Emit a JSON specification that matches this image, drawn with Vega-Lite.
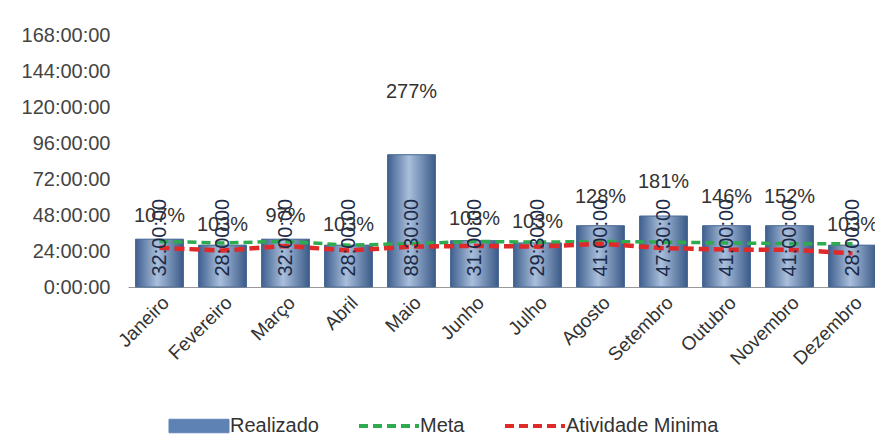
{
  "$schema": "https://vega.github.io/schema/vega-lite/v6.json",
  "width": 747,
  "height": 269,
  "autosize": {"type": "none"},
  "padding": {"left": 128, "top": 18, "right": 0, "bottom": 152},
  "background": "white",
  "config": {"view": {"stroke": null}, "font": "Liberation Sans",
    "axisY": {"ticks": false, "domain": false, "grid": false, "labelPadding": 18, "labelFontSize": 20, "labelColor": "#444", "title": null}},
  "data": {"values": [
    {"mes": "Janeiro", "realizado": 32, "label": "32:00:00", "pct": "107%", "meta": 30.5, "minima": 26.2},
    {"mes": "Fevereiro", "realizado": 28, "label": "28:00:00", "pct": "103%", "meta": 29.5, "minima": 24.4},
    {"mes": "Março", "realizado": 32, "label": "32:00:00", "pct": "97%", "meta": 30.5, "minima": 27.5},
    {"mes": "Abril", "realizado": 28, "label": "28:00:00", "pct": "103%", "meta": 28, "minima": 24.4},
    {"mes": "Maio", "realizado": 88.5, "label": "88:30:00", "pct": "277%", "meta": 29, "minima": 27},
    {"mes": "Junho", "realizado": 31, "label": "31:00:00", "pct": "103%", "meta": 30.5, "minima": 27.5},
    {"mes": "Julho", "realizado": 29.5, "label": "29:30:00", "pct": "103%", "meta": 30, "minima": 27},
    {"mes": "Agosto", "realizado": 41, "label": "41:00:00", "pct": "128%", "meta": 30.5, "minima": 29},
    {"mes": "Setembro", "realizado": 47.5, "label": "47:30:00", "pct": "181%", "meta": 30, "minima": 26},
    {"mes": "Outubro", "realizado": 41, "label": "41:00:00", "pct": "146%", "meta": 29.5, "minima": 25},
    {"mes": "Novembro", "realizado": 41, "label": "41:00:00", "pct": "152%", "meta": 29, "minima": 25},
    {"mes": "Dezembro", "realizado": 28, "label": "28:00:00", "pct": "103%", "meta": 29, "minima": 22.5}
  ]},
  "encoding": {
    "x": {
      "field": "mes", "type": "nominal", "sort": null,
      "scale": {"range": [0, 756], "paddingInner": 0.24, "paddingOuter": 0.12},
      "axis": {"title": null, "labelAngle": -45, "labelFontSize": 19, "labelColor": "#333", "ticks": false, "domainColor": "#999", "labelPadding": 6}
    }
  },
  "layer": [
    {
      "layer": [
        {
          "mark": {"type": "bar"},
          "encoding": {
            "y": {"field": "realizado", "type": "quantitative", "scale": {"domain": [0, 168]},
              "axis": {"values": [0, 24, 48, 72, 96, 120, 144, 168], "labelExpr": "datum.value + ':00:00'"}},
            "color": {"datum": "Realizado", "type": "nominal",
              "scale": {"domain": ["Realizado", "Meta", "Atividade Minima"], "range": ["#5f82b5", "#2fab4f", "#e02a2a"]},
              "legend": {
                "orient": "none", "legendX": 46, "legendY": 398, "direction": "horizontal", "title": null,
                "labelFontSize": 20, "labelColor": "#333", "symbolSize": 900, "columnPadding": 32, "labelOffset": 36,
                "encode": {"symbols": {"update": {
                  "shape": {"signal": "datum.value === 'Realizado' ? 'M-1,-0.45H3V0.45H-1Z' : 'M-1,0H3'"},
                  "fill": {"signal": "datum.value === 'Realizado' ? '#5f82b5' : 'transparent'"},
                  "stroke": {"signal": "datum.value === 'Realizado' ? '#44669a' : (datum.value === 'Meta' ? '#2fab4f' : '#e02a2a')"},
                  "strokeDash": {"signal": "datum.value === 'Realizado' ? [] : [9, 5]"},
                  "strokeWidth": {"signal": "datum.value === 'Realizado' ? 1 : 4"}
                }}}
              }}
          }
        },
        {
          "mark": {"type": "bar", "stroke": "#4a6a96", "strokeWidth": 1,
            "fill": {"gradient": "linear", "x1": 0, "x2": 1, "y1": 0, "y2": 0,
              "stops": [{"offset": 0, "color": "#3f5f8e"}, {"offset": 0.45, "color": "#a9bfdc"}, {"offset": 1, "color": "#3b5a88"}]}},
          "encoding": {"y": {"field": "realizado", "type": "quantitative",
            "axis": {"values": [0, 24, 48, 72, 96, 120, 144, 168], "labelExpr": "datum.value + ':00:00'"}}}
        },
        {
          "mark": {"type": "line", "strokeWidth": 3.5, "strokeDash": [9, 5]},
          "encoding": {"y": {"field": "meta", "type": "quantitative",
            "axis": {"values": [0, 24, 48, 72, 96, 120, 144, 168], "labelExpr": "datum.value + ':00:00'"}},
            "color": {"datum": "Meta", "type": "nominal"}}
        },
        {
          "mark": {"type": "line", "strokeWidth": 4.5, "strokeDash": [10, 5]},
          "encoding": {"y": {"field": "minima", "type": "quantitative",
            "axis": {"values": [0, 24, 48, 72, 96, 120, 144, 168], "labelExpr": "datum.value + ':00:00'"}},
            "color": {"datum": "Atividade Minima", "type": "nominal"}}
        },
        {
          "mark": {"type": "text", "angle": 270, "fontSize": 20, "color": "#1c2a48", "align": "center", "baseline": "middle"},
          "encoding": {"y": {"datum": 33, "type": "quantitative",
            "axis": {"values": [0, 24, 48, 72, 96, 120, 144, 168], "labelExpr": "datum.value + ':00:00'"}},
            "text": {"field": "label"}}
        }
      ]
    },
    {
      "mark": {"type": "text", "fontSize": 20, "color": "#333", "align": "center", "baseline": "middle"},
      "encoding": {
        "y": {"field": "realizado", "type": "quantitative", "scale": {"domain": [0, 122]}, "axis": null},
        "text": {"field": "pct"}
      }
    }
  ],
  "resolve": {"scale": {"y": "independent"}}
}
